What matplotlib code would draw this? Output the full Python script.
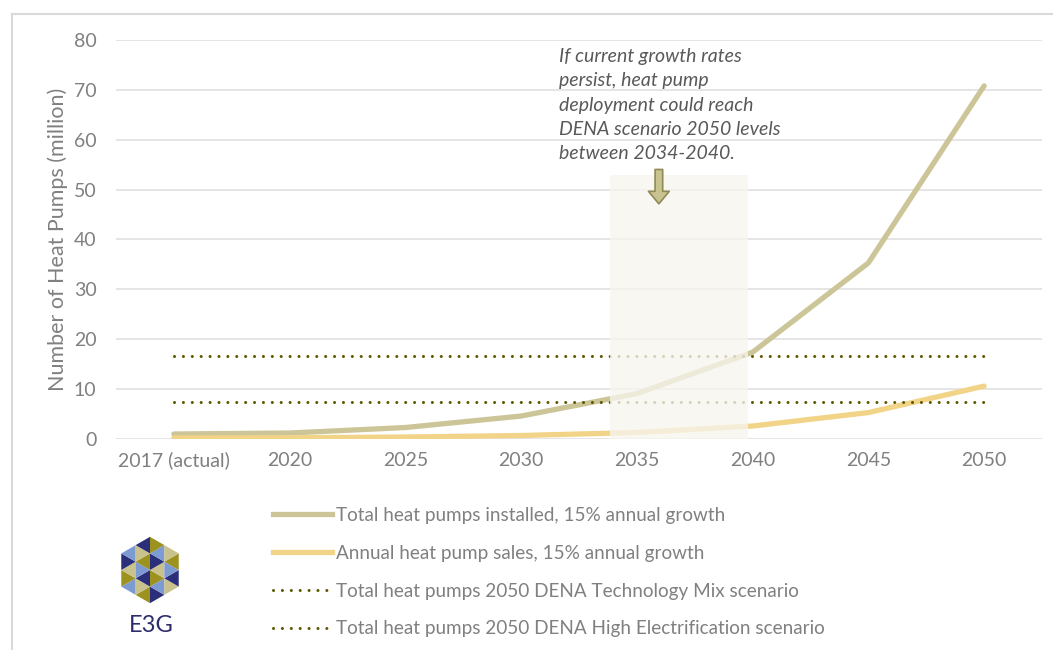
import numpy as np
import matplotlib
matplotlib.use("Agg")
import matplotlib.pyplot as plt
from matplotlib.patches import Rectangle, Polygon
from matplotlib.lines import Line2D

years = ["2017 (actual)", "2020", "2025", "2030", "2035", "2040", "2045", "2050"]
total_installed = [1.0, 1.2, 2.3, 4.6, 9.1, 17.4, 35.3, 70.8]
annual_sales = [0.2, 0.25, 0.4, 0.7, 1.3, 2.6, 5.3, 10.6]
dena_tech_mix = 7.4
dena_high_elec = 16.6
yticks = [0, 10, 20, 30, 40, 50, 60, 70, 80]

note = ("If current growth rates\npersist, heat pump\ndeployment could reach\n"
        "DENA scenario 2050 levels\nbetween 2034-2040.")

c_total = "#CBC597"
c_sales = "#F1D487"
c_dena = "#5E5800"
c_grid = "#E3E3E3"
c_text = "#808080"
font = "Lato"

fig = plt.figure(figsize=(10.53, 6.5), dpi=100)
ax = fig.add_axes([116 / 1053, 1 - 439 / 650, 926 / 1053, 399 / 650])

x = np.arange(len(years))
ax.plot(x, total_installed, color=c_total, lw=3.8, solid_capstyle="round", zorder=3)
ax.plot(x, annual_sales, color=c_sales, lw=3.8, solid_capstyle="round", zorder=3)
dot = (0, (0.01, 2.9))
ax.plot(x, [dena_tech_mix] * len(x), color=c_dena, lw=2.2, ls=dot,
        dash_capstyle="round", zorder=3)
ax.plot(x, [dena_high_elec] * len(x), color=c_dena, lw=2.2, ls=dot,
        dash_capstyle="round", zorder=3)

# highlighted window 2034-2040
ax.add_patch(Rectangle((3.77, 0), 1.19, 52.9, facecolor="#F7F5EE", alpha=0.78,
                       edgecolor="none", zorder=4))
ax.annotate("", xy=(4.19, 46.6), xytext=(4.19, 54.6),
            arrowprops=dict(arrowstyle="simple,head_width=1.5,head_length=0.9,tail_width=0.55",
                            fc="#C9C38F", ec="#8F8A55", lw=1.2), zorder=5)
ax.text(3.33, 78.4, note, fontsize=14, style="italic", color="#595959",
        family=font, va="top", ha="left", linespacing=1.52, zorder=6)

ax.set_xlim(-0.5, len(years) - 0.5)
ax.set_ylim(0, 80)
ax.set_yticks(yticks)
ax.set_xticks(x)
ax.set_xticklabels(years)
ax.grid(axis="y", color=c_grid, lw=1.3)
ax.set_axisbelow(True)
for s in ax.spines.values():
    s.set_visible(False)
ax.tick_params(length=0, labelsize=14, colors=c_text, pad=9)
for lab in ax.get_xticklabels() + ax.get_yticklabels():
    lab.set_family(font)
ax.tick_params(axis="y", pad=14)
ax.set_ylabel("Number of Heat Pumps (million)", fontsize=15.5, color=c_text,
              family=font, labelpad=4)

# legend
handles = [
    Line2D([], [], color=c_total, lw=3.8),
    Line2D([], [], color=c_sales, lw=3.8),
    Line2D([], [], color=c_dena, lw=2.2, ls=dot, dash_capstyle="round"),
    Line2D([], [], color=c_dena, lw=2.2, ls=dot, dash_capstyle="round"),
]
labels = [
    "Total heat pumps installed, 15% annual growth",
    "Annual heat pump sales, 15% annual growth",
    "Total heat pumps 2050 DENA Technology Mix scenario",
    "Total heat pumps 2050 DENA High Electrification scenario",
]
leg = fig.legend(handles, labels, loc="upper left", bbox_to_anchor=(256 / 1053, 1 - 490 / 650),
                 frameon=False, handlelength=3.1, handletextpad=0.25, labelspacing=1.1,
                 prop={"family": font, "size": 13.6})
for t in leg.get_texts():
    t.set_color(c_text)

# outer frame
fig.add_artist(Line2D([12 / 1053, 12 / 1053], [0, 1 - 14 / 650], color="#D9D9D9", lw=1.5))
fig.add_artist(Line2D([12 / 1053, 1], [1 - 14 / 650, 1 - 14 / 650], color="#D9D9D9", lw=1.5))

# E3G logo: hexagon of triangles
lax = fig.add_axes([116 / 1053, 1 - 604 / 650, 68 / 1053, 68 / 650])
lax.set_xlim(-2.0, 2.0)
lax.set_ylim(-2.05, 2.05)
lax.set_aspect("equal")
lax.axis("off")
palette = ["#2B2E78", "#C9C28D", "#9D9120", "#7C9BD2"]
r3 = np.sqrt(3) / 2
def pt(i, j):
    return (i * r3, j + i * 0.5)
for i in range(-3, 3):
    for j in range(-4, 4):
        for k, tri in enumerate([(pt(i, j), pt(i, j + 1), pt(i + 1, j)),
                                 (pt(i + 1, j), pt(i + 1, j + 1), pt(i, j + 1))]):
            cx = sum(p[0] for p in tri) / 3
            cy = sum(p[1] for p in tri) / 3
            if abs(cx) < np.sqrt(3) and abs(cy) + abs(cx) / np.sqrt(3) < 2:
                col = palette[(i + 2 * j + 3 * k) % 4]
                lax.add_patch(Polygon(tri, closed=True, facecolor=col, edgecolor="none"))
fig.text(151 / 1053, 1 - 625 / 650, "E3G", fontsize=17, color="#2E2D6B",
         family=font, ha="center", va="center")

fig.savefig("out.png", dpi=100)
